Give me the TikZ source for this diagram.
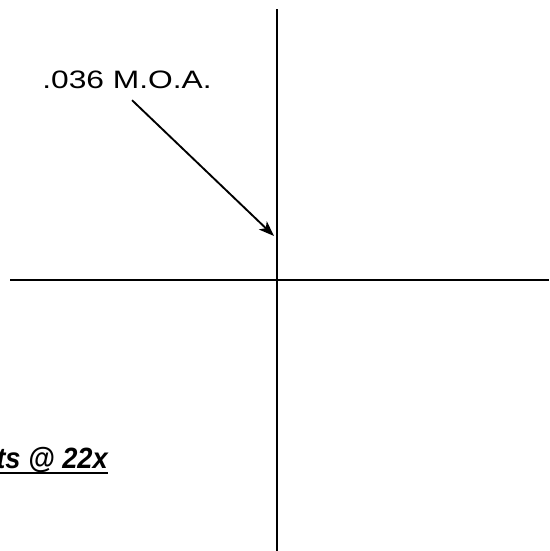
\documentclass[tikz,border=0pt]{standalone}
\usepackage{fontspec}
\setmainfont{Liberation Sans}
\newfontfamily\moafont[FakeStretch=1.26]{Liberation Sans}
\newfontfamily\powerfont[FakeStretch=0.93]{Liberation Sans}
\usetikzlibrary{arrows.meta}

\tikzset{
  hair/.style={line width=1.7pt},
  pointer/.style={line width=1.6pt,-{Stealth[length=4.6mm,width=3.4mm,inset=1.2mm]}},
  moalabel/.style={font=\moafont\fontsize{21.5}{24}\selectfont,inner sep=1pt},
  powerlabel/.style={font=\powerfont\fontsize{25}{28}\selectfont\bfseries\itshape,inner sep=0pt}
}

\begin{document}
\begin{tikzpicture}[x=0.03cm,y=-0.03cm,line cap=butt]
  \useasboundingbox (0,0) rectangle (549,551);
  \coordinate (T) at (277,9);
  \coordinate (D) at (277,551);
  \coordinate (L) at (10,279.5);
  \coordinate (R) at (549,279.5);
  \coordinate (tip) at (274,236);
  % crosshair
  \draw[hair] (T) -- (D);
  \draw[hair] (L) -- (R);
  % callout
  \node[moalabel,anchor=base] (moa) at (127,88) {.036 M.O.A.};
  \draw[pointer] ([xshift=4.3pt,yshift=-9pt]moa.south) -- (tip);
  % caption, cut at the left edge
  \node[powerlabel,anchor=base east] (power) at (108,468) {ts @ 22x};
  \draw[line width=2.4pt] ([yshift=-4.3pt]power.base west) -- ([yshift=-4.3pt]power.base east);
\end{tikzpicture}
\end{document}
